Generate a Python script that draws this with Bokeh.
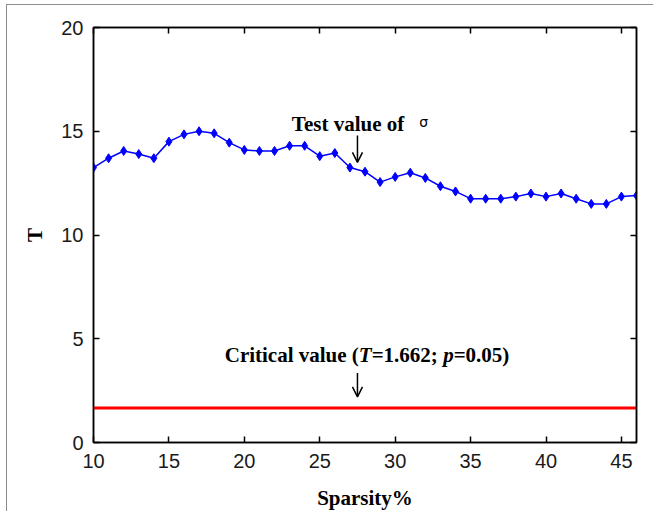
from bokeh.plotting import figure
from bokeh.models import Label, Arrow, OpenHead, LinearAxis, FixedTicker, Range1d, ColumnDataSource
from bokeh.embed import file_html
from bokeh.resources import INLINE

# Data
sparsity = list(range(10, 47))
t_values = [13.25, 13.7, 14.05, 13.9, 13.7, 14.5, 14.85, 15.0, 14.9, 14.45,
            14.1, 14.05, 14.05, 14.3, 14.3, 13.8, 13.95, 13.25, 13.05, 12.55,
            12.8, 13.0, 12.75, 12.35, 12.1, 11.75, 11.75, 11.75, 11.85, 12.0,
            11.85, 12.0, 11.75, 11.5, 11.5, 11.85, 11.9]
critical_x = [10, 46]
critical_t = [1.662, 1.662]
x_ticks = [10, 15, 20, 25, 30, 35, 40, 45]
y_ticks = [0, 5, 10, 15, 20]

p = figure(width=647, height=507, x_range=Range1d(10, 46), y_range=Range1d(0, 20),
           output_backend="svg", toolbar_location=None,
           min_border_left=86, min_border_right=18, min_border_top=22, min_border_bottom=70)
p.styles = {"margin-left": "6px", "margin-top": "4px",
            "border-left": "1.5px solid #8c8c8c", "border-top": "1.5px solid #8c8c8c"}
p.outline_line_color = "black"
p.outline_line_width = 1.5
p.xgrid.visible = False
p.ygrid.visible = False
p.background_fill_color = "white"
p.border_fill_color = "white"

bottom_axis = p.below[0]
left_axis = p.left[0]
top_axis = LinearAxis()
right_axis = LinearAxis()
p.add_layout(top_axis, "above")
p.add_layout(right_axis, "right")

for ax in [bottom_axis, top_axis]:
    ax.ticker = FixedTicker(ticks=x_ticks)
for ax in [left_axis, right_axis]:
    ax.ticker = FixedTicker(ticks=y_ticks)

for ax in [bottom_axis, left_axis, top_axis, right_axis]:
    ax.axis_line_color = "black"
    ax.axis_line_width = 1.5
    ax.major_tick_line_color = "black"
    ax.major_tick_line_width = 1.5
    ax.major_tick_in = 6
    ax.major_tick_out = 0
    ax.minor_tick_line_color = None
    ax.major_label_text_font = "Liberation Sans"
    ax.major_label_text_font_size = "20px"
    ax.major_label_text_color = "#1a1a1a"
    ax.major_label_standoff = 9

bottom_axis.major_label_standoff = 11
left_axis.major_label_standoff = 10

for ax in [top_axis, right_axis]:
    ax.major_label_text_font_size = "0px"
    ax.major_label_text_color = None
    ax.major_label_standoff = 0

bottom_axis.axis_label = "Sparsity%"
left_axis.axis_label = "T"
for ax in [bottom_axis, left_axis]:
    ax.axis_label_text_font = "Liberation Serif"
    ax.axis_label_text_font_style = "bold"
    ax.axis_label_text_font_size = "21px"
    ax.axis_label_text_color = "black"
bottom_axis.axis_label_standoff = 15
left_axis.axis_label_standoff = 11

src = ColumnDataSource(data=dict(x=sparsity, y=t_values))
p.line("x", "y", source=src, line_color="#0000ff", line_width=1.5)
p.scatter("x", "y", source=src, marker="diamond", size=9, fill_color="#0000ff", line_color="#0000ff")
p.line(critical_x, critical_t, line_color="#ff0000", line_width=3)

# Annotations
p.add_layout(Label(x=23.15, y=15.36, text="Test value of", text_font="Liberation Serif",
                   text_font_style="bold", text_font_size="21px", text_color="black",
                   text_baseline="alphabetic"))
p.add_layout(Label(x=31.6, y=15.45, text="σ", text_font="DejaVu Sans",
                   text_font_size="14px", text_color="black", text_baseline="alphabetic"))
p.add_layout(Arrow(x_start=27.5, y_start=14.8, x_end=27.5, y_end=13.5,
                   line_width=1.5, line_color="black",
                   end=OpenHead(size=10, line_width=1.5, line_color="black")))

crit_parts = [("Critical value (", "bold", 0.0),
              ("T", "bold italic", 134.1),
              ("=1.662; ", "bold", 146.9),
              ("p", "bold italic", 218.4),
              ("=0.05)", "bold", 228.9)]
for txt, style, off in crit_parts:
    p.add_layout(Label(x=18.7, y=4.22, x_offset=off, text=txt, text_font="Liberation Serif",
                       text_font_style=style, text_font_size="21px", text_color="black",
                       text_baseline="alphabetic"))
p.add_layout(Arrow(x_start=27.5, y_start=3.35, x_end=27.5, y_end=2.2,
                   line_width=1.5, line_color="black",
                   end=OpenHead(size=10, line_width=1.5, line_color="black")))

open("out.html", "w").write(file_html(p, INLINE))
